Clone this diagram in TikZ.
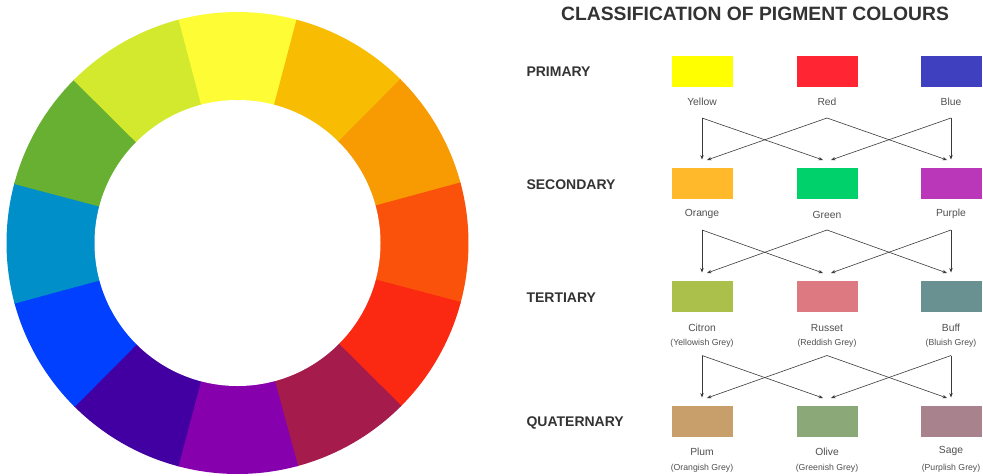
\documentclass[tikz,border=0pt]{standalone}
\usepackage{fontspec}
\setmainfont{Liberation Sans}
\usetikzlibrary{arrows.meta, calc}

% wheel colours
\definecolor{wYellow}{HTML}{FDFC35}
\definecolor{wAmber}{HTML}{F8BD02}
\definecolor{wOrange}{HTML}{F89A02}
\definecolor{wVermilion}{HTML}{FA520B}
\definecolor{wRed}{HTML}{FB2912}
\definecolor{wCrimson}{HTML}{A51B4B}
\definecolor{wPurple}{HTML}{8600AD}
\definecolor{wIndigo}{HTML}{4200A3}
\definecolor{wBlue}{HTML}{0040FE}
\definecolor{wCyan}{HTML}{018FC9}
\definecolor{wGreen}{HTML}{68B031}
\definecolor{wLime}{HTML}{D3E92E}
% pigment swatches
\definecolor{pYellow}{HTML}{FFFF00}
\definecolor{pRed}{HTML}{FF2532}
\definecolor{pBlue}{HTML}{3F40C0}
\definecolor{pOrange}{HTML}{FFB92A}
\definecolor{pGreen}{HTML}{00D16B}
\definecolor{pPurple}{HTML}{BA37B9}
\definecolor{pCitron}{HTML}{ABBF4B}
\definecolor{pRusset}{HTML}{DD7980}
\definecolor{pBuff}{HTML}{6A9192}
\definecolor{pPlum}{HTML}{C89F6B}
\definecolor{pOlive}{HTML}{8BA879}
\definecolor{pSage}{HTML}{A8838D}
\definecolor{textdark}{HTML}{333333}
\definecolor{textgrey}{HTML}{505050}
\definecolor{linegrey}{HTML}{3A3A3A}

\tikzset{
  swatch/.style={minimum width=61pt, minimum height=31pt, inner sep=0pt},
  rowname/.style={anchor=base west, font=\bfseries\fontsize{14}{16}\selectfont, text=textdark},
  cname/.style={anchor=base, font=\fontsize{10.3}{12}\selectfont, text=textgrey},
  csub/.style={anchor=base, font=\fontsize{8.7}{10}\selectfont, text=textgrey},
  mix/.style={draw=linegrey, line width=0.6pt, -{Stealth[length=4.5pt,width=3.4pt]}}
}

\begin{document}
\begin{tikzpicture}[x=1pt, y=-1pt]
    \useasboundingbox (0,0) rectangle (983,475);
    \fill[white] (0,0) rectangle (983,475);

    % colour wheel (y points down, so angles run clockwise)
    \coordinate (wheel) at (237.5,243);
    \foreach \a/\c in {-90/wYellow, -60/wAmber, -30/wOrange, 0/wVermilion, 30/wRed, 60/wCrimson,
                       90/wPurple, 120/wIndigo, 150/wBlue, 180/wCyan, 210/wGreen, 240/wLime} {
        \fill[\c] (wheel) -- ++(\a-15.2:231) arc[start angle=\a-15.2, end angle=\a+15.2, radius=231] -- cycle;
    }
    \fill[white] (wheel) circle (143);

    % title and row names
    \node[anchor=base, font=\bfseries\fontsize{19.3}{22}\selectfont, text=textdark] (title) at (755,20) {CLASSIFICATION OF PIGMENT COLOURS};
    \node[rowname] (primary) at (523,76) {PRIMARY};
    \node[rowname] (secondary) at (523,189) {SECONDARY};
    \node[rowname] (tertiary) at (523,302) {TERTIARY};
    \node[rowname] (quaternary) at (523,426) {QUATERNARY};

    % swatches with their names
    \foreach \n/\c/\x/\y/\t/\b in {yellow/pYellow/702/71.5/Yellow/105, red/pRed/827/71.5/Red/105, blue/pBlue/951/71.5/Blue/105,
                                 orange/pOrange/702/183.5/Orange/216, green/pGreen/827/183.5/Green/218, purple/pPurple/951/183.5/Purple/216,
                                 citron/pCitron/702/296.5/Citron/331, russet/pRusset/827/296.5/Russet/331, buff/pBuff/951/296.5/Buff/331,
                                 plum/pPlum/702/421.5/Plum/455, olive/pOlive/827/421.5/Olive/455, sage/pSage/951/421.5/Sage/453} {
        \node[swatch, fill=\c] (\n) at (\x,\y) {};
        \node[cname] (\n-name) at (\x,\b) {\t};
    }
    \node[csub] (citron-sub) at (702,345) {(Yellowish Grey)};
    \node[csub] (russet-sub) at (827,345) {(Reddish Grey)};
    \node[csub] (buff-sub) at (951,345) {(Bluish Grey)};
    \node[csub] (plum-sub) at (702,470) {(Orangish Grey)};
    \node[csub] (olive-sub) at (827,470) {(Greenish Grey)};
    \node[csub] (sage-sub) at (951,470) {(Purplish Grey)};

    % mixing arrows between rows
    \foreach \ul/\um/\ur/\ll/\lm/\lr/\d in {yellow/red/blue/orange/green/purple/46.5,
                                          orange/green/purple/citron/russet/buff/46.5,
                                          citron/russet/buff/plum/olive/sage/59} {
        \coordinate (\ul-out) at ($(\ul)+(0,\d)$);
        \coordinate (\um-out) at ($(\um)+(0,\d)$);
        \coordinate (\ur-out) at ($(\ur)+(0,\d)$);
        \coordinate (\ll-in) at ($(\ll)+(0,-24)$);
        \coordinate (\lm-in) at ($(\lm)+(0,-24)$);
        \coordinate (\lr-in) at ($(\lr)+(0,-24)$);
        \draw[mix] (\ul-out) -- (\ll-in);
        \draw[mix] (\ul-out) -- ($(\lm-in)+(-4,0.5)$);
        \draw[mix] (\um-out) -- ($(\ll-in)+(5,0.5)$);
        \draw[mix] (\um-out) -- ($(\lr-in)+(-4,0.5)$);
        \draw[mix] (\ur-out) -- ($(\lm-in)+(4,0.5)$);
        \draw[mix] (\ur-out) -- (\lr-in);
    }
\end{tikzpicture}
\end{document}
